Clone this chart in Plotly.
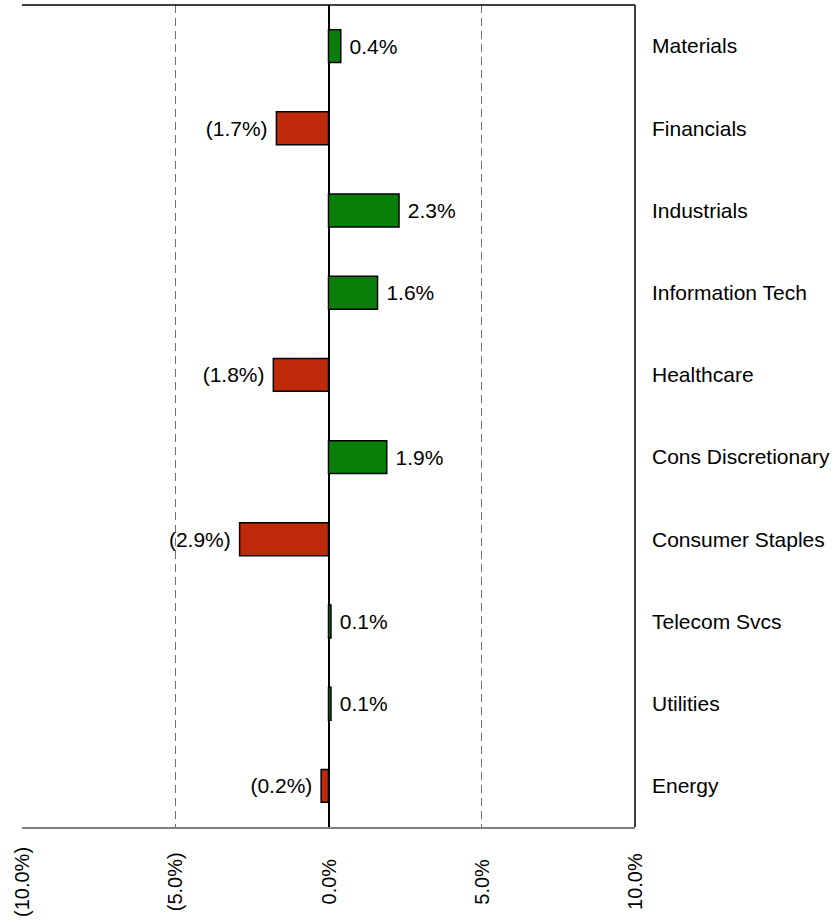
import plotly.graph_objects as go

categories = ["Materials", "Financials", "Industrials", "Information Tech", "Healthcare",
              "Cons Discretionary", "Consumer Staples", "Telecom Svcs", "Utilities", "Energy"]
values = [0.4, -1.7, 2.3, 1.6, -1.8, 1.9, -2.9, 0.08, 0.08, -0.24]
tick_vals = [-10, -5, 0, 5, 10]
tick_text = ["(10.0%)", "(5.0%)", "0.0%", "5.0%", "10.0%"]

def fmt(v):
    return f"({abs(v):.1f}%) " if v < 0 else f" {v:.1f}%"

labels = [fmt(v) for v in values]
colors = ["#BE2A0A" if v < 0 else "#087F08" for v in values]

FONT = "Liberation Sans, Arial, sans-serif"
FS = 21

fig = go.Figure(go.Bar(
    x=values, y=categories, orientation="h", width=0.4,
    marker=dict(color=colors, line=dict(color="black", width=1.5)),
    text=labels, textposition="outside", cliponaxis=False,
    textfont=dict(family=FONT, size=FS, color="black"),
))

# x tick labels as centred, rotated annotations (reference centres them)
annotations = [
    dict(x=v, xref="x", y=-0.0669, yref="paper", text=t, textangle=-90,
         showarrow=False, xanchor="center", yanchor="middle",
         font=dict(family=FONT, size=20, color="black"))
    for v, t in zip(tick_vals, tick_text)
]

fig.update_layout(
    width=837, height=923,
    margin=dict(l=22, r=202, t=5, b=96),
    paper_bgcolor="white", plot_bgcolor="white",
    font=dict(family=FONT, size=FS, color="black"),
    showlegend=False,
    annotations=annotations,
    shapes=[
        dict(type="line", xref="paper", yref="paper", x0=0, x1=1, y0=1, y1=1,
             line=dict(color="black", width=1.5)),
        dict(type="line", xref="paper", yref="paper", x0=1, x1=1, y0=0, y1=1,
             line=dict(color="black", width=1.5)),
    ],
)
fig.update_xaxes(
    range=[-10, 10], tickvals=tick_vals, showticklabels=False,
    showgrid=True, gridcolor="#707070", griddash="8px,5px", gridwidth=1.2,
    zeroline=True, zerolinecolor="black", zerolinewidth=2,
    showline=True, linecolor="#808080", linewidth=1.5,
    ticks="", automargin=False,
)
fig.update_yaxes(
    side="right", autorange="reversed", showgrid=False, zeroline=False,
    showline=False, ticks="", ticklabelstandoff=16, automargin=False,
)

fig.write_html("out.html", config={"displayModeBar": False},
               post_script="document.body.style.margin='0px';")
